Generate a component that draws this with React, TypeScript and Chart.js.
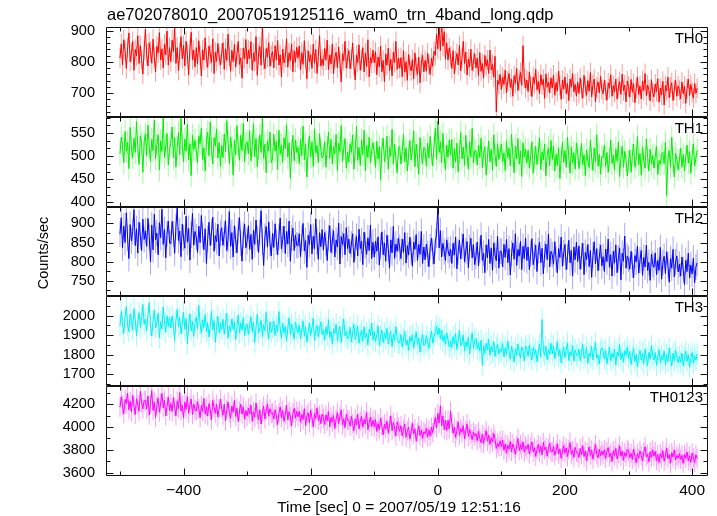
import React, { useEffect, useRef } from "react";
import { Chart, registerables } from "chart.js";

Chart.register(...registerables);

const TITLE = "ae702078010_20070519125116_wam0_trn_4band_long.qdp";
const X_LABEL = "Time [sec] 0 = 2007/05/19 12:51:16";
const Y_LABEL = "Counts/sec";
const SERIES_NAMES = ["TH0", "TH1", "TH2", "TH3", "TH0123"];

// light-curve bins: first bin time and bin width (sec)
const TIME_START = -500;
const TIME_STEP = 2;

const TH0 = [
  812, 858, 790, 871, 836, 779, 845, 893, 801, 828, 866, 773, 840, 819, 884, 795, 852, 808, 761, 839,
  905, 822, 787, 861, 834, 796, 873, 815, 768, 850, 829, 894, 806, 842, 781, 857, 823, 899, 790, 846,
  801, 870, 833, 912, 795, 846, 772, 829, 881, 810, 853, 787, 866, 824, 758, 842, 895, 807, 838, 784,
  846, 793, 868, 820, 755, 839, 806, 877, 812, 783, 851, 825, 798, 874, 763, 831, 802, 859, 817, 790,
  828, 861, 776, 842, 805, 889, 819, 770, 837, 801, 856, 783, 824, 866, 792, 813, 748, 845, 810, 872,
  794, 838, 811, 865, 773, 829, 802, 881, 757, 826, 849, 790, 916, 808, 778, 843, 815, 862, 786, 821,
  833, 781, 852, 806, 869, 790, 823, 752, 841, 797, 815, 874, 783, 829, 805, 858, 768, 836, 799, 847,
  812, 851, 775, 830, 792, 868, 808, 746, 836, 801, 823, 779, 857, 796, 840, 763, 818, 884, 787, 809,
  789, 843, 806, 870, 775, 822, 794, 858, 762, 815, 831, 781, 848, 799, 736, 826, 804, 866, 780, 813,
  836, 778, 809, 861, 790, 742, 822, 798, 855, 773, 807, 846, 768, 829, 785, 871, 752, 814, 796, 838,
  797, 833, 759, 816, 784, 851, 768, 805, 737, 826, 790, 844, 772, 809, 755, 831, 798, 866, 776, 812,
  780, 814, 752, 836, 767, 801, 741, 824, 789, 771, 808, 745, 829, 784, 760, 815, 733, 797, 822, 768,
  805, 770, 828, 791, 760, 812, 786, 834, 821, 889, 842, 918, 836, 930, 851, 897, 809, 861, 806, 845,
  818, 779, 836, 762, 804, 827, 790, 853, 771, 812, 866, 795, 832, 758, 809, 784, 841, 773, 800, 826,
  781, 812, 756, 830, 770, 795, 748, 821, 786, 807, 763, 838, 774, 792, 751, 818, 640, 742, 728, 760,
  712, 751, 728, 774, 701, 739, 763, 718, 745, 690, 756, 731, 779, 708, 742, 766, 725, 852, 748, 716,
  742, 705, 768, 723, 689, 751, 730, 776, 711, 737, 698, 759, 726, 744, 683, 762, 719, 735, 701, 749,
  716, 758, 693, 734, 707, 771, 725, 680, 742, 713, 752, 698, 731, 676, 745, 719, 763, 704, 728, 690,
  735, 699, 748, 712, 684, 757, 721, 693, 740, 706, 766, 688, 727, 745, 672, 718, 736, 701, 754, 711,
  698, 741, 709, 677, 733, 715, 759, 690, 724, 704, 745, 681, 719, 737, 696, 761, 708, 726, 672, 739,
  721, 687, 744, 703, 730, 669, 715, 752, 696, 722, 681, 739, 708, 763, 692, 726, 711, 675, 743, 701,
  688, 729, 705, 746, 671, 716, 694, 738, 662, 724, 707, 751, 685, 719, 733, 676, 711, 742, 690, 723,
  709, 681, 736, 698, 722, 667, 714, 745, 692, 728, 703, 684, 731, 699, 716,
];

const TH1 = [
  505, 541, 522, 486, 553, 511, 530, 473, 562, 518, 497, 539, 508, 575, 520, 482, 544, 527, 465, 531,
  548, 501, 567, 519, 489, 536, 512, 578, 494, 525, 546, 470, 533, 510, 584, 497, 522, 549, 481, 516,
  529, 563, 496, 540, 476, 518, 551, 503, 582, 524, 488, 537, 511, 569, 492, 527, 458, 545, 514, 534,
  512, 486, 544, 527, 561, 493, 518, 468, 536, 552, 501, 574, 515, 483, 540, 522, 559, 496, 530, 478,
  523, 497, 548, 509, 577, 530, 484, 541, 516, 459, 535, 503, 566, 520, 491, 545, 512, 571, 488, 526,
  531, 505, 555, 490, 521, 570, 499, 538, 477, 517, 546, 508, 583, 495, 526, 464, 533, 511, 552, 486,
  494, 547, 511, 532, 471, 556, 505, 524, 487, 540, 516, 568, 498, 529, 452, 512, 545, 490, 535, 508,
  519, 484, 537, 501, 565, 492, 527, 455, 513, 544, 498, 531, 478, 559, 507, 523, 486, 548, 514, 496,
  502, 531, 476, 518, 552, 495, 536, 483, 521, 505, 547, 469, 528, 510, 566, 489, 517, 538, 474, 509,
  487, 527, 508, 546, 472, 512, 564, 491, 519, 480, 535, 503, 556, 468, 524, 497, 541, 485, 513, 529,
  506, 476, 532, 494, 521, 449, 514, 539, 488, 507, 543, 472, 519, 500, 558, 483, 526, 495, 464, 517,
  521, 483, 510, 547, 488, 518, 468, 503, 534, 492, 512, 555, 477, 526, 498, 461, 540, 505, 484, 519,
  513, 478, 528, 496, 543, 505, 479, 522, 560, 493, 576, 508, 531, 486, 549, 500, 470, 524, 497, 535,
  502, 536, 474, 516, 487, 528, 466, 509, 551, 494, 520, 480, 545, 503, 472, 531, 498, 560, 485, 512,
  511, 481, 524, 497, 539, 475, 506, 520, 459, 496, 533, 488, 515, 470, 546, 502, 478, 527, 493, 509,
  526, 488, 507, 469, 533, 497, 517, 479, 547, 501, 464, 522, 494, 538, 483, 511, 456, 529, 498, 515,
  485, 513, 474, 500, 531, 463, 496, 521, 482, 507, 540, 471, 509, 492, 526, 458, 503, 518, 479, 534,
  493, 522, 468, 504, 480, 518, 452, 495, 530, 487, 512, 476, 541, 499, 463, 520, 485, 507, 472, 528,
  509, 473, 497, 527, 482, 503, 458, 513, 490, 475, 535, 496, 469, 518, 487, 546, 478, 504, 461, 499,
  497, 524, 478, 508, 465, 494, 535, 484, 502, 470, 516, 489, 531, 456, 498, 521, 476, 510, 493, 457,
  488, 513, 465, 502, 526, 476, 494, 542, 481, 506, 459, 520, 490, 474, 537, 497, 468, 515, 484, 502,
  474, 499, 521, 460, 491, 482, 503, 508, 484, 530, 415, 495, 512, 476, 541, 488, 455, 506, 493, 471,
  492, 517, 476, 504, 468, 498, 524, 485, 510, 463, 501, 527, 479, 496, 513,
];

const TH2 = [
  872, 915, 836, 893, 850, 928, 861, 808, 897, 854, 879, 936, 842, 886, 822, 903, 867, 829, 911, 858,
  881, 840, 913, 866, 799, 896, 831, 924, 857, 875, 818, 902, 863, 937, 845, 884, 810, 872, 906, 849,
  847, 905, 873, 822, 891, 940, 855, 880, 813, 898, 862, 835, 919, 851, 887, 804, 870, 926, 843, 879,
  865, 824, 893, 850, 921, 868, 831, 886, 795, 860, 903, 842, 877, 916, 827, 868, 852, 898, 815, 874,
  889, 843, 872, 907, 829, 858, 931, 840, 876, 812, 894, 857, 823, 882, 915, 848, 801, 869, 898, 836,
  853, 894, 832, 871, 806, 883, 845, 909, 860, 824, 877, 933, 851, 790, 866, 892, 838, 904, 847, 815,
  874, 837, 899, 852, 818, 865, 914, 833, 858, 893, 821, 879, 846, 906, 801, 862, 888, 829, 870, 843,
  842, 873, 813, 861, 900, 828, 855, 785, 869, 845, 897, 820, 866, 834, 912, 851, 806, 876, 839, 884,
  830, 876, 848, 803, 862, 894, 824, 853, 881, 812, 857, 838, 901, 794, 866, 845, 873, 818, 889, 834,
  859, 821, 846, 873, 798, 838, 866, 815, 885, 834, 854, 792, 877, 843, 819, 862, 829, 896, 808, 851,
  812, 854, 827, 865, 791, 840, 878, 818, 849, 801, 869, 835, 783, 857, 823, 892, 808, 846, 827, 861,
  836, 808, 859, 824, 876, 796, 842, 817, 864, 826, 788, 851, 832, 871, 803, 845, 819, 879, 795, 838,
  805, 846, 820, 787, 839, 861, 826, 794, 852, 870, 942, 836, 881, 812, 848, 826, 803, 857, 830, 815,
  833, 795, 848, 817, 864, 781, 826, 856, 807, 841, 872, 799, 828, 853, 784, 836, 861, 810, 845, 792,
  815, 851, 789, 830, 869, 803, 822, 771, 844, 810, 858, 795, 836, 777, 849, 818, 802, 866, 783, 828,
  826, 786, 845, 811, 858, 797, 834, 765, 821, 849, 806, 873, 790, 832, 814, 853, 779, 840, 808, 862,
  803, 838, 779, 821, 860, 792, 814, 843, 774, 829, 851, 797, 835, 768, 819, 846, 805, 872, 786, 827,
  818, 793, 852, 806, 771, 834, 811, 864, 788, 823, 845, 779, 814, 856, 797, 829, 762, 838, 805, 851,
  800, 841, 780, 815, 848, 766, 824, 805, 845, 787, 829, 759, 816, 852, 794, 834, 776, 812, 843, 789,
  813, 774, 833, 800, 859, 785, 818, 762, 827, 796, 844, 771, 809, 836, 752, 822, 801, 867, 783, 814,
  807, 780, 827, 791, 758, 816, 799, 841, 770, 804, 829, 764, 811, 786, 843, 777, 798, 751, 820, 793,
  785, 823, 766, 803, 777, 837, 754, 797, 814, 769, 826, 791, 746, 808, 783, 832, 760, 799, 815, 773,
  793, 762, 812, 779, 740, 803, 774, 822, 758, 791, 768, 809, 745, 786, 797,
];

const TH3 = [
  1945, 2021, 1962, 1908, 1993, 2046, 1951, 1918, 2008, 1972, 1926, 2035, 1980, 1897, 1966, 2014, 1939, 1987, 2057, 1954,
  1982, 1921, 2003, 2066, 1948, 1895, 1976, 2029, 1937, 1959, 2012, 1886, 1970, 1931, 2044, 1962, 1915, 1999, 1943, 1988,
  1936, 1997, 1954, 1872, 1975, 2031, 1942, 1988, 1906, 1961, 2017, 1929, 1984, 1854, 1950, 2009, 1922, 1971, 1893, 1965,
  1992, 1931, 2052, 1957, 1909, 1978, 1938, 2006, 1917, 1963, 1890, 1948, 2024, 1926, 1974, 1863, 1945, 1996, 1912, 1959,
  1928, 1981, 1904, 1956, 2012, 1883, 1947, 1918, 1983, 1930, 1969, 1875, 1940, 2003, 1911, 1962, 1925, 1990, 1896, 1949,
  1957, 1903, 1948, 1994, 1917, 1965, 1862, 1941, 2008, 1910, 1938, 1976, 1891, 1953, 1922, 2019, 1933, 1880, 1969, 1914,
  1939, 1972, 1898, 1950, 1918, 2021, 1931, 1884, 1960, 1912, 1945, 1869, 1936, 1988, 1903, 1957, 1921, 1879, 1966, 1932,
  1911, 1952, 1880, 1929, 1973, 1894, 1943, 1864, 1917, 1962, 1899, 1938, 1986, 1873, 1925, 1950, 1891, 1934, 1968, 1902,
  1927, 1874, 1941, 1902, 1979, 1889, 1920, 1853, 1933, 1907, 1956, 1871, 1915, 1944, 1862, 1928, 1983, 1896, 1919, 1880,
  1893, 1939, 1864, 1914, 1955, 1877, 1906, 1947, 1858, 1899, 1924, 1868, 1942, 1885, 1911, 1848, 1931, 1897, 1962, 1875,
  1917, 1868, 1902, 1946, 1847, 1893, 1927, 1861, 1910, 1881, 1935, 1854, 1898, 1920, 1839, 1906, 1872, 1944, 1886, 1859,
  1862, 1903, 1838, 1880, 1919, 1849, 1874, 1822, 1893, 1866, 1901, 1833, 1877, 1915, 1851, 1886, 1812, 1869, 1905, 1845,
  1853, 1896, 1864, 1831, 1884, 1921, 1858, 1893, 1918, 1947, 1902, 1936, 1881, 1925, 1869, 1898, 1852, 1911, 1876, 1840,
  1870, 1835, 1893, 1852, 1908, 1826, 1874, 1925, 1845, 1862, 1899, 1818, 1867, 1841, 1889, 1804, 1859, 1912, 1832, 1871,
  1883, 1829, 1861, 1819, 1874, 1745, 1847, 1806, 1858, 1824, 1879, 1797, 1842, 1813, 1866, 1790, 1835, 1852, 1803, 1828,
  1816, 1857, 1788, 1834, 1801, 1869, 1819, 1776, 1843, 1808, 1762, 1831, 1796, 1854, 1812, 1780, 1839, 1821, 1767, 1845,
  1830, 1791, 1849, 1806, 1772, 1837, 1800, 1826, 1764, 1815, 1853, 1787, 1980, 1818, 1797, 1843, 1773, 1826, 1802, 1858,
  1803, 1845, 1779, 1817, 1866, 1791, 1826, 1758, 1809, 1838, 1784, 1822, 1859, 1770, 1813, 1795, 1847, 1766, 1824, 1801,
  1792, 1828, 1768, 1811, 1852, 1780, 1801, 1836, 1755, 1807, 1789, 1843, 1773, 1816, 1862, 1782, 1798, 1751, 1819, 1834,
  1815, 1777, 1824, 1753, 1798, 1839, 1768, 1806, 1783, 1828, 1746, 1812, 1791, 1853, 1774, 1809, 1761, 1820, 1797, 1838,
  1780, 1816, 1749, 1797, 1833, 1764, 1801, 1738, 1790, 1822, 1771, 1808, 1752, 1829, 1785, 1743, 1812, 1776, 1846, 1793,
  1773, 1810, 1745, 1789, 1826, 1756, 1795, 1772, 1818, 1749, 1801, 1763, 1834, 1780, 1741, 1807, 1769, 1821, 1786, 1758,
  1791, 1761, 1808, 1742, 1784, 1817, 1765, 1799, 1737, 1782, 1811, 1756, 1793, 1770, 1804,
];

const TH0123 = [
  4172, 4264, 4188, 4115, 4241, 4203, 4296, 4150, 4226, 4131, 4279, 4185, 4109, 4247, 4196, 4138, 4312, 4212, 4160, 4233,
  4230, 4158, 4271, 4104, 4198, 4320, 4145, 4219, 4083, 4187, 4254, 4129, 4207, 4295, 4168, 4236, 4097, 4181, 4263, 4142,
  4205, 4136, 4256, 4177, 4098, 4229, 4162, 4301, 4140, 4193, 4078, 4218, 4155, 4268, 4120, 4186, 4244, 4109, 4201, 4150,
  4139, 4221, 4162, 4080, 4189, 4135, 4250, 4112, 4176, 4096, 4205, 4147, 4063, 4233, 4170, 4121, 4198, 4088, 4159, 4242,
  4161, 4103, 4200, 4052, 4152, 4218, 4121, 4075, 4183, 4130, 4234, 4092, 4165, 4047, 4140, 4199, 4113, 4177, 4068, 4143,
  4097, 4166, 4114, 4191, 4049, 4133, 4085, 4212, 4110, 4063, 4151, 4026, 4128, 4184, 4071, 4146, 4203, 4095, 4160, 4118,
  4125, 4070, 4150, 4099, 4021, 4122, 4176, 4081, 4144, 4049, 4108, 4191, 4063, 4134, 4092, 4010, 4120, 4163, 4078, 4137,
  4090, 4138, 4043, 4109, 4066, 4161, 4012, 4097, 4125, 4036, 4148, 4080, 4001, 4118, 4074, 4169, 4057, 4102, 4029, 4113,
  4076, 4022, 4106, 4054, 4135, 4003, 4085, 4042, 4101, 3987, 4068, 4127, 4031, 4093, 4150, 4018, 4072, 3994, 4111, 4060,
  4058, 4007, 4093, 4030, 3966, 4071, 4016, 4112, 3983, 4049, 4095, 3998, 4066, 4025, 4130, 3976, 4041, 4087, 4004, 4059,
  4003, 4064, 3961, 4030, 3978, 4079, 4006, 3931, 4027, 3985, 4052, 3946, 4013, 4098, 3968, 4037, 3991, 3922, 4046, 3999,
  3962, 4012, 3921, 3980, 4027, 3909, 3967, 4000, 3893, 3956, 4031, 3938, 3985, 3876, 3950, 4009, 3925, 3971, 3902, 3958,
  3941, 3990, 3912, 3974, 3920, 3998, 3951, 4021, 4085, 3990, 4120, 4035, 4186, 4010, 4098, 3975, 4060, 3968, 4060, 3982,
  4140, 4032, 3945, 3998, 3909, 3971, 4046, 3928, 3987, 3952, 4013, 3896, 3966, 4028, 3917, 3978, 3940, 3889, 3955, 3921,
  3942, 3880, 3961, 3903, 3862, 3935, 3857, 3914, 3968, 3875, 3929, 3848, 3906, 3871, 3943, 3889, 3812, 3858, 3827, 3880,
  3829, 3884, 3796, 3851, 3772, 3840, 3808, 3873, 3784, 3852, 3815, 3762, 3838, 3899, 3793, 3846, 3801, 3869, 3780, 3834,
  3806, 3849, 3763, 3825, 3870, 3781, 3818, 3743, 3804, 3847, 3779, 3831, 3756, 3866, 3799, 3823, 3747, 3812, 3858, 3785,
  3781, 3829, 3752, 3796, 3854, 3763, 3808, 3726, 3789, 3837, 3771, 3816, 3742, 3801, 3863, 3760, 3795, 3733, 3822, 3778,
  3774, 3733, 3812, 3758, 3837, 3741, 3790, 3704, 3776, 3825, 3752, 3799, 3718, 3784, 3846, 3762, 3729, 3805, 3748, 3791,
  3755, 3801, 3726, 3782, 3820, 3738, 3771, 3697, 3794, 3750, 3813, 3720, 3768, 3835, 3743, 3787, 3709, 3776, 3741, 3804,
  3789, 3731, 3770, 3715, 3808, 3744, 3688, 3766, 3727, 3791, 3752, 3703, 3779, 3826, 3739, 3761, 3694, 3785, 3735, 3799,
  3744, 3786, 3707, 3759, 3690, 3768, 3729, 3793, 3700, 3747, 3815, 3723, 3760, 3682, 3775, 3738, 3798, 3711, 3752, 3726,
  3768, 3716, 3752, 3683, 3759, 3725, 3781, 3704, 3748, 3692, 3771, 3730, 3689, 3757, 3721,
];

// typical 1-sigma error bar half-lengths (counts/sec)
const TH0_ERR = 32;
const TH1_ERR = 25;
const TH2_ERR = 34;
const TH3_ERR = 55;
const TH0123_ERR = 85;

const FONT = "'Liberation Sans', Arial, Helvetica, sans-serif";

type Panel = {
  id: string;
  name: string;
  values: number[];
  err: number;
  color: string;
  light: string;
  min: number;
  max: number;
  major: number;
  sub: number;
};

export default function App() {
  const ref = useRef<HTMLCanvasElement>(null);

  useEffect(() => {
    document.body.style.margin = "0";
    const canvas = ref.current;
    if (!canvas) return;

    const panels: Panel[] = [
      { id: "y0", name: SERIES_NAMES[0], values: TH0, err: TH0_ERR, color: "#ff0000", light: "rgba(255,0,0,0.4)", min: 624, max: 912, major: 100, sub: 5 },
      { id: "y1", name: SERIES_NAMES[1], values: TH1, err: TH1_ERR, color: "#00ee00", light: "rgba(0,255,0,0.4)", min: 391, max: 585, major: 50, sub: 3 },
      { id: "y2", name: SERIES_NAMES[2], values: TH2, err: TH2_ERR, color: "#0000ff", light: "rgba(0,0,255,0.35)", min: 709, max: 944, major: 50, sub: 2 },
      { id: "y3", name: SERIES_NAMES[3], values: TH3, err: TH3_ERR, color: "#00f0f0", light: "rgba(0,255,255,0.4)", min: 1638, max: 2098, major: 100, sub: 2 },
      { id: "y4", name: SERIES_NAMES[4], values: TH0123, err: TH0123_ERR, color: "#ff00ff", light: "rgba(255,0,255,0.4)", min: 3571, max: 4357, major: 200, sub: 2 },
    ];
    const X_MIN = -522;
    const X_MAX = 425;
    const X_MAJOR = 200;
    const X_SUB = 2;

    const majorTicks = (min: number, max: number, step: number) => {
      const t: { value: number }[] = [];
      for (let v = Math.ceil(min / step) * step; v <= max; v += step) t.push({ value: v });
      return t;
    };

    const scales: any = {
      x: {
        type: "linear",
        position: "bottom",
        min: X_MIN,
        max: X_MAX,
        grid: { display: false, drawTicks: false },
        border: { display: false },
        afterBuildTicks: (s: any) => {
          s.ticks = majorTicks(X_MIN, X_MAX, X_MAJOR);
        },
        ticks: {
          autoSkip: false,
          maxRotation: 0,
          padding: 5,
          color: "#000",
          font: { family: FONT, size: 15.5 },
          callback: (v: any) => String(v).replace("-", "\u2212"),
        },
        afterFit: (s: any) => {
          s.height = 40;
        },
      },
    };
    // last-defined stacked axis is placed on top
    [...panels].reverse().forEach((p) => {
      scales[p.id] = {
        type: "linear",
        position: "left",
        stack: "lc",
        stackWeight: 1,
        offset: false,
        min: p.min,
        max: p.max,
        grid: { display: false, drawTicks: false },
        border: { display: false },
        afterBuildTicks: (s: any) => {
          s.ticks = majorTicks(p.min, p.max, p.major);
        },
        ticks: {
          autoSkip: false,
          padding: 11,
          color: "#000",
          font: { family: FONT, size: 14.5 },
          callback: (v: any) => String(v),
        },
        afterFit: (s: any) => {
          s.width = 106;
        },
      };
    });

    const datasets = panels.map((p) => ({
      label: p.name,
      data: p.values.map((v, i) => ({ x: TIME_START + i * TIME_STEP, y: v })),
      yAxisID: p.id,
      xAxisID: "x",
      borderColor: p.color,
      backgroundColor: p.color,
      borderWidth: 1,
      pointRadius: 0,
      fill: false,
      tension: 0,
    }));

    const clipPanel = (chart: any, s: any) => {
      const a = chart.chartArea;
      const ctx = chart.ctx;
      ctx.beginPath();
      ctx.rect(a.left, s.top, a.right - a.left, s.bottom - s.top);
      ctx.clip();
    };

    const qdpPlugin = {
      id: "qdpFrames",
      beforeDatasetsDraw(chart: any) {
        // error bars (light colour) behind the curves
        const ctx = chart.ctx;
        const xs = chart.scales.x;
        panels.forEach((p) => {
          const s = chart.scales[p.id];
          ctx.save();
          clipPanel(chart, s);
          ctx.strokeStyle = p.light;
          ctx.lineWidth = 1;
          ctx.beginPath();
          p.values.forEach((v, i) => {
            const x = xs.getPixelForValue(TIME_START + i * TIME_STEP);
            ctx.moveTo(x, s.getPixelForValue(v - p.err));
            ctx.lineTo(x, s.getPixelForValue(v + p.err));
          });
          ctx.stroke();
          ctx.restore();
        });
      },
      beforeDatasetDraw(chart: any, args: any) {
        const ds = chart.data.datasets[args.index];
        const s = chart.scales[ds.yAxisID];
        chart.ctx.save();
        clipPanel(chart, s);
      },
      afterDatasetDraw(chart: any) {
        chart.ctx.restore();
      },
      afterDraw(chart: any) {
        const ctx = chart.ctx;
        const a = chart.chartArea;
        const xs = chart.scales.x;
        ctx.save();
        ctx.strokeStyle = "#111";
        ctx.lineWidth = 1;
        const L = Math.round(a.left) + 0.5;
        const R = Math.round(a.right) - 0.5;
        panels.forEach((p) => {
          const s = chart.scales[p.id];
          const T = Math.round(s.top) + 0.5;
          const B = Math.round(s.bottom) - 0.5;
          ctx.beginPath();
          ctx.rect(L, T, R - L, B - T);
          ctx.stroke();
          // y ticks, inward on both sides
          ctx.beginPath();
          const start = Math.floor(p.min / p.major) * p.major;
          for (let k = start; k <= p.max; k += p.major) {
            for (let j = 0; j < p.sub; j++) {
              const v = k + (j * p.major) / p.sub;
              if (v < p.min || v > p.max) continue;
              const y = Math.round(s.getPixelForValue(v)) + 0.5;
              const len = j === 0 ? 7 : 4;
              ctx.moveTo(L, y);
              ctx.lineTo(L + len, y);
              ctx.moveTo(R, y);
              ctx.lineTo(R - len, y);
            }
          }
          // x ticks, inward at top and bottom of each panel
          const xs0 = Math.floor(X_MIN / X_MAJOR) * X_MAJOR;
          for (let k = xs0; k <= X_MAX; k += X_MAJOR) {
            for (let j = 0; j < X_SUB; j++) {
              const v = k + (j * X_MAJOR) / X_SUB;
              if (v < X_MIN || v > X_MAX) continue;
              const x = Math.round(xs.getPixelForValue(v)) + 0.5;
              const len = j === 0 ? 7 : 4;
              ctx.moveTo(x, T);
              ctx.lineTo(x, T + len);
              ctx.moveTo(x, B);
              ctx.lineTo(x, B - len);
            }
          }
          ctx.stroke();
          // panel name
          ctx.fillStyle = "#000";
          ctx.font = `15px ${FONT}`;
          ctx.textAlign = "right";
          ctx.textBaseline = "alphabetic";
          ctx.fillText(p.name, a.right - 5, s.top + 16);
        });
        // title
        ctx.fillStyle = "#000";
        ctx.font = `16.5px ${FONT}`;
        ctx.textAlign = "left";
        ctx.textBaseline = "alphabetic";
        ctx.fillText(TITLE, a.left + 1, 20);
        // x label
        ctx.font = `15.5px ${FONT}`;
        ctx.textAlign = "center";
        ctx.fillText(X_LABEL, 399, 512);
        // y label
        ctx.font = `14.5px ${FONT}`;
        ctx.translate(43.5, 253);
        ctx.rotate(-Math.PI / 2);
        ctx.textAlign = "center";
        ctx.textBaseline = "middle";
        ctx.fillText(Y_LABEL, 0, 0);
        ctx.restore();
      },
    };

    const chart = new Chart(canvas, {
      type: "line",
      data: { datasets },
      options: {
        animation: false,
        responsive: false,
        devicePixelRatio: 1,
        layout: { padding: { top: 27, left: 0, right: 9, bottom: 0 } },
        plugins: {
          legend: { display: false },
          tooltip: { enabled: false },
          title: { display: false },
        },
        scales,
      } as any,
      plugins: [qdpPlugin],
    });

    return () => {
      chart.destroy();
    };
  }, []);

  return (
    <div style={{ width: 717, height: 516, background: "#fff" }}>
      <canvas ref={ref} width={717} height={516} style={{ display: "block" }} />
    </div>
  );
}
